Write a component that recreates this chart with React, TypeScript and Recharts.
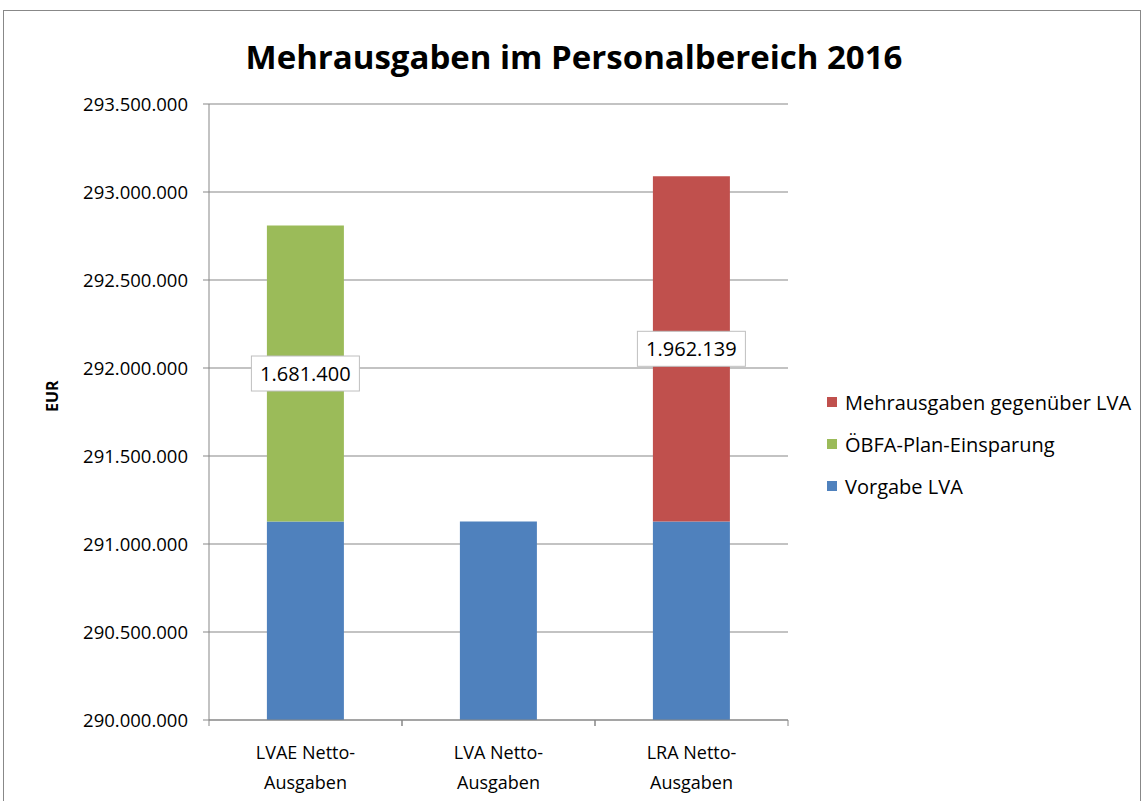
import React from 'react';
import { BarChart, Bar, XAxis, YAxis, CartesianGrid, LabelList } from 'recharts';

const categories = ['LVAE Netto-Ausgaben', 'LVA Netto-Ausgaben', 'LRA Netto-Ausgaben'];
const vorgabeLVA = [291128000, 291128000, 291128000];
const oebfaEinsparung = [1681400, null, null];
const mehrausgaben = [null, null, 1962139];
const yTicks = [290000000, 290500000, 291000000, 291500000, 292000000, 292500000, 293000000, 293500000];

const seriesInfo = [
  { key: 'mehr', name: 'Mehrausgaben gegenüber LVA', color: '#C0504D' },
  { key: 'oebfa', name: 'ÖBFA-Plan-Einsparung', color: '#9BBB59' },
  { key: 'vorgabe', name: 'Vorgabe LVA', color: '#4F81BD' },
];

const data = categories.map((name, i) => ({
  name,
  vorgabe: vorgabeLVA[i],
  oebfa: oebfaEinsparung[i],
  mehr: mehrausgaben[i],
}));

const FONT = '"Open Sans", sans-serif';
const GRID = '#878787';

// German thousands separator
const fmt = (v: number) => String(Math.round(v)).replace(/\B(?=(\d{3})+(?!\d))/g, '.');

const CategoryTick = (props: any) => {
  const { x, y, payload, width } = props;
  const bw = (width || 579) / categories.length;
  const label: string = payload.value;
  const cut = label.indexOf('-') + 1;
  return (
    <g>
      <line x1={x - bw / 2} y1={y} x2={x - bw / 2} y2={y + 6} stroke={GRID} />
      <line x1={x + bw / 2} y1={y} x2={x + bw / 2} y2={y + 6} stroke={GRID} />
      <text x={x} y={y + 39} textAnchor="middle" fontFamily={FONT} fontSize={18} fill="#000">
        {label.slice(0, cut)}
      </text>
      <text x={x} y={y + 69} textAnchor="middle" fontFamily={FONT} fontSize={18} fill="#000">
        {label.slice(cut)}
      </text>
    </g>
  );
};

const BoxLabel = (props: any) => {
  const { x, y, width, height, value } = props;
  if (value == null) return null;
  const cx = x + width / 2;
  const cy = y + height / 2;
  const w = 108;
  const h = 35;
  return (
    <g>
      <rect x={cx - w / 2} y={cy - h / 2} width={w} height={h} fill="#fff" stroke="#BFBFBF" />
      <text x={cx} y={cy + 7} textAnchor="middle" fontFamily={FONT} fontSize={20} fill="#000">
        {fmt(value)}
      </text>
    </g>
  );
};

export default function App() {
  return (
    <div style={{ position: 'absolute', left: 0, top: 0, width: 1144, height: 801, overflow: 'hidden', background: '#fff' }}>
      <div style={{ position: 'absolute', left: 3, top: 10, width: 1136, height: 830, border: '1px solid #888' }} />
      <div
        style={{
          position: 'absolute',
          left: 0,
          top: 35,
          width: 1148,
          textAlign: 'center',
          fontFamily: FONT,
          fontWeight: 700,
          fontSize: 33,
          lineHeight: '44px',
          color: '#000',
        }}
      >
        Mehrausgaben im Personalbereich 2016
      </div>
      <div style={{ position: 'absolute', left: 0, top: 0 }}>
        <BarChart width={1144} height={801} data={data} margin={{ top: 104, right: 356, bottom: 0, left: 0 }} barCategoryGap="30%">
          <CartesianGrid vertical={false} stroke={GRID} />
          <XAxis
            dataKey="name"
            axisLine={{ stroke: GRID }}
            tickLine={false}
            tickSize={0}
            tickMargin={0}
            tick={<CategoryTick />}
            interval={0}
            height={81}
          />
          <YAxis
            width={209}
            domain={[290000000, 293500000]}
            ticks={yTicks}
            allowDataOverflow
            tickFormatter={fmt}
            axisLine={{ stroke: GRID }}
            tickLine={{ stroke: GRID }}
            tickSize={6}
            tickMargin={15}
            tick={{ fontFamily: FONT, fontSize: 18.5, fill: '#000' }}
            label={{ value: 'EUR', angle: -90, position: 'insideLeft', offset: 52, style: { fontFamily: FONT, fontSize: 16, fontWeight: 700, fill: '#000' } }}
          />
          <Bar dataKey="vorgabe" name="Vorgabe LVA" stackId="a" fill="#4F81BD" isAnimationActive={false} />
          <Bar dataKey="oebfa" name="ÖBFA-Plan-Einsparung" stackId="a" fill="#9BBB59" isAnimationActive={false}>
            <LabelList dataKey="oebfa" content={<BoxLabel />} />
          </Bar>
          <Bar dataKey="mehr" name="Mehrausgaben gegenüber LVA" stackId="a" fill="#C0504D" isAnimationActive={false}>
            <LabelList dataKey="mehr" content={<BoxLabel />} />
          </Bar>
        </BarChart>
      </div>
      <div style={{ position: 'absolute', left: 827, top: 381, fontFamily: FONT, fontSize: 20, color: '#000' }}>
        {seriesInfo.map((s) => (
          <div key={s.key} style={{ display: 'flex', alignItems: 'center', height: 42, whiteSpace: 'nowrap' }}>
            <span style={{ width: 10, height: 10, background: s.color, marginRight: 8, flexShrink: 0 }} />
            <span>{s.name}</span>
          </div>
        ))}
      </div>
    </div>
  );
}
